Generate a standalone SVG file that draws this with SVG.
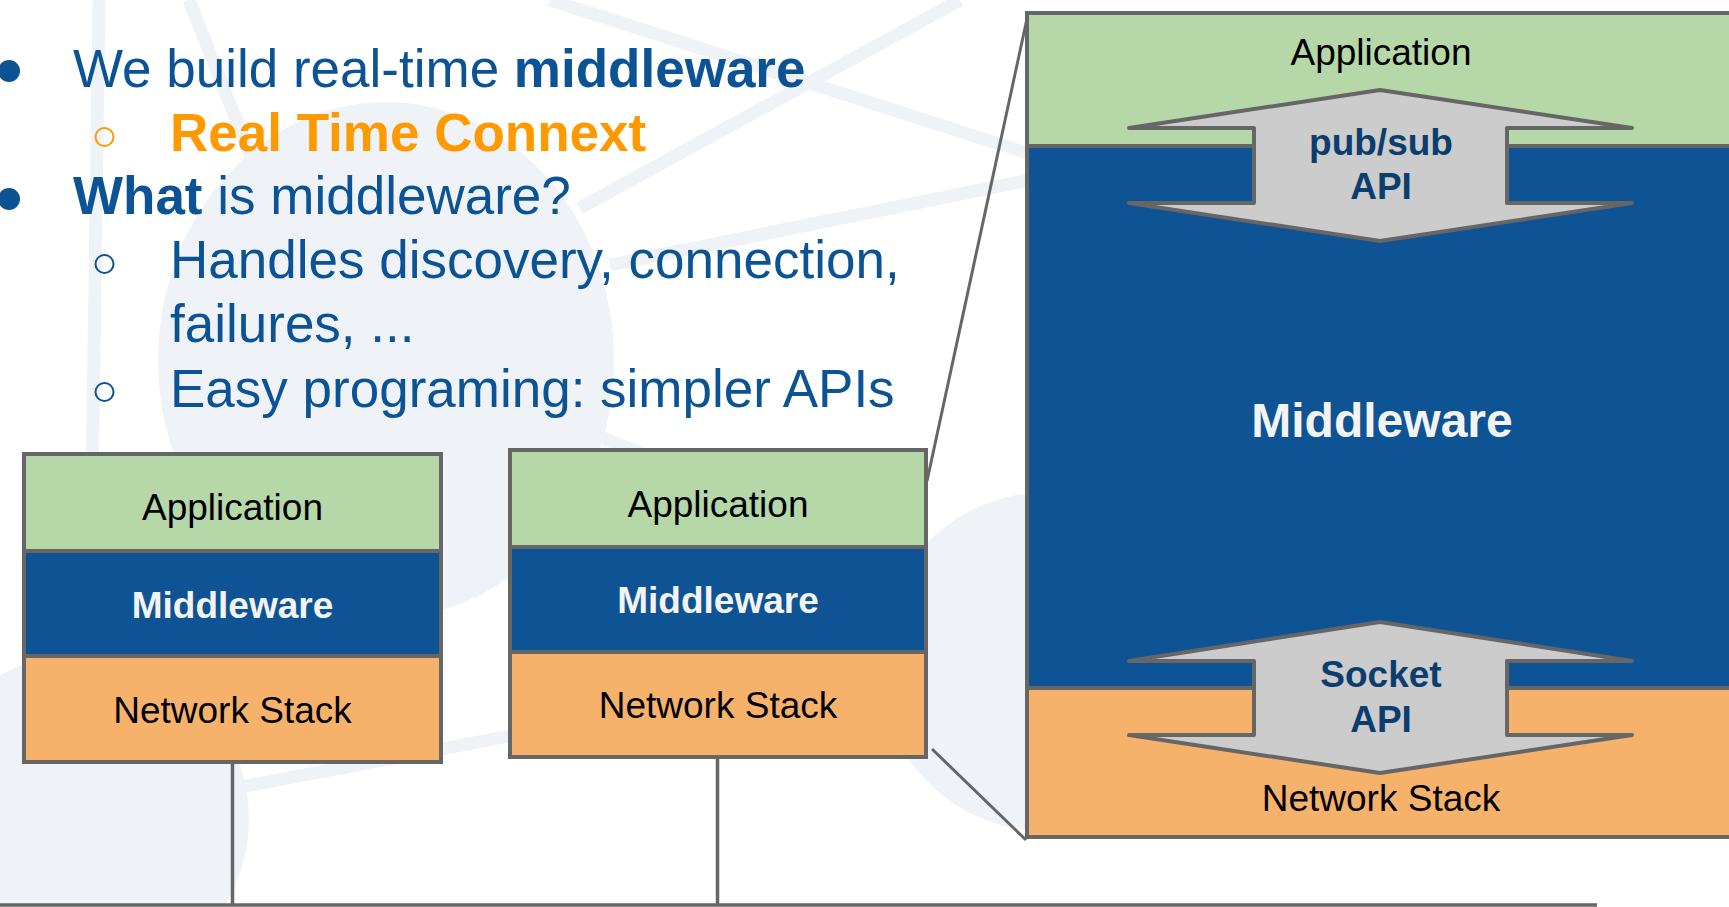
<svg xmlns="http://www.w3.org/2000/svg" width="1729" height="907" viewBox="0 0 1729 907">
  <style>
    .bg { fill: #eff3f8; }
    .bgline { stroke: #eff3f8; stroke-width: 13; fill: none; }
    .layer { stroke: #666666; stroke-width: 4; }
    .app { fill: #b6d7a8; }
    .mid { fill: #0e5394; }
    .net { fill: #f6b26b; }
    .lbl { font-family: "Liberation Sans", Arial, sans-serif; font-size: 37px; text-anchor: middle; fill: #000000; }
    .lbl-w { font-family: "Liberation Sans", Arial, sans-serif; font-size: 37px; font-weight: bold; text-anchor: middle; fill: #f3f3f3; }
    .api { fill: #cccccc; stroke: #666666; stroke-width: 4; stroke-linejoin: round; }
    .api-t { font-family: "Liberation Sans", Arial, sans-serif; font-size: 37px; font-weight: bold; text-anchor: middle; fill: #0b3d6e; }
    .wire { stroke: #666666; stroke-width: 3.5; fill: none; }
    .zoom { stroke: #666666; stroke-width: 3; fill: none; }
    .txt { font-family: "Liberation Sans", Arial, sans-serif; font-size: 53px; fill: #0b5394; }
    .txt-o { font-family: "Liberation Sans", Arial, sans-serif; font-size: 53px; font-weight: bold; fill: #ff9900; }
    .b { font-weight: bold; }
  </style>

  <!-- faint network backdrop -->
  <g id="backdrop">
    <rect x="0" y="0" width="1729" height="907" fill="#ffffff"/>
    <ellipse class="bg" cx="386" cy="360" rx="228" ry="258"/>
    <circle class="bg" cx="83" cy="819" r="166"/>
    <circle class="bg" cx="1048" cy="662" r="170"/>
    <line class="bgline" x1="99" y1="0" x2="86" y2="907"/>
    <line class="bgline" x1="189" y1="0" x2="262" y2="185"/>
    <line class="bgline" x1="550" y1="0" x2="1040" y2="157"/>
    <line class="bgline" x1="960" y1="0" x2="580" y2="208"/>
    <line class="bgline" x1="1040" y1="178" x2="610" y2="265"/>
    <line class="bgline" x1="584" y1="430" x2="700" y2="478"/>
    <line class="bgline" x1="225" y1="790" x2="700" y2="700"/>
  </g>

  <!-- bullet list -->
  <g id="bullets">
    <circle cx="9" cy="71" r="11" fill="#0b5394"/>
    <text class="txt" x="73" y="87">We build real-time <tspan class="b">middleware</tspan></text>
    <circle cx="104.5" cy="137" r="9" fill="none" stroke="#ff9900" stroke-width="2"/>
    <text class="txt-o" x="170" y="151">Real Time Connext</text>
    <circle cx="9" cy="199" r="11" fill="#0b5394"/>
    <text class="txt" x="73" y="214"><tspan class="b">What</tspan> is middleware?</text>
    <circle cx="104.5" cy="264" r="9" fill="none" stroke="#0b5394" stroke-width="2"/>
    <text class="txt" x="170" y="278">Handles discovery, connection,</text>
    <text class="txt" x="170" y="342">failures, ...</text>
    <circle cx="104.5" cy="392" r="9" fill="none" stroke="#0b5394" stroke-width="2"/>
    <text class="txt" x="170" y="407">Easy programing: simpler APIs</text>
  </g>

  <!-- network wiring and zoom guides -->
  <g id="connectors">
    <line class="wire" x1="0" y1="905" x2="1597" y2="905"/>
    <line class="wire" x1="232.5" y1="762" x2="232.5" y2="905"/>
    <line class="wire" x1="717.5" y1="757" x2="717.5" y2="905"/>
    <line class="zoom" x1="927" y1="481" x2="1028" y2="14"/>
    <line class="zoom" x1="932" y1="749" x2="1026" y2="840"/>
  </g>

  <!-- host 1 stack -->
  <g id="stack-1">
    <rect class="layer app" x="24" y="454" width="417" height="97"/>
    <rect class="layer mid" x="24" y="551" width="417" height="105"/>
    <rect class="layer net" x="24" y="656" width="417" height="106"/>
    <text class="lbl" x="232.5" y="520">Application</text>
    <text class="lbl-w" x="232.5" y="618">Middleware</text>
    <text class="lbl" x="232.5" y="723">Network Stack</text>
  </g>

  <!-- host 2 stack -->
  <g id="stack-2">
    <rect class="layer app" x="510" y="450" width="416" height="97"/>
    <rect class="layer mid" x="510" y="547" width="416" height="105"/>
    <rect class="layer net" x="510" y="652" width="416" height="105"/>
    <text class="lbl" x="718" y="517">Application</text>
    <text class="lbl-w" x="718" y="613">Middleware</text>
    <text class="lbl" x="718" y="718">Network Stack</text>
  </g>

  <!-- enlarged stack -->
  <g id="stack-detail">
    <rect class="layer app" x="1027" y="13" width="710" height="133"/>
    <rect class="layer mid" x="1027" y="146" width="710" height="542"/>
    <rect class="layer net" x="1027" y="688" width="710" height="149"/>
    <text class="lbl" x="1381" y="65">Application</text>
    <text class="lbl-w" x="1382" y="437" style="font-size:48px">Middleware</text>
    <text class="lbl" x="1381" y="811">Network Stack</text>
  </g>

  <!-- pub/sub API double arrow -->
  <g id="pubsub-api">
    <path class="api" d="M1380 90 L1632 128 L1507 128 L1507 203 L1632 203 L1380 241 L1129 203 L1254 203 L1254 128 L1129 128 Z"/>
    <text class="api-t" x="1381" y="155">pub/sub</text>
    <text class="api-t" x="1381" y="199">API</text>
  </g>

  <!-- socket API double arrow -->
  <g id="socket-api">
    <path class="api" d="M1380 622 L1632 661 L1507 661 L1507 735 L1632 735 L1380 773 L1129 735 L1254 735 L1254 661 L1129 661 Z"/>
    <text class="api-t" x="1381" y="687">Socket</text>
    <text class="api-t" x="1381" y="732">API</text>
  </g>
</svg>
